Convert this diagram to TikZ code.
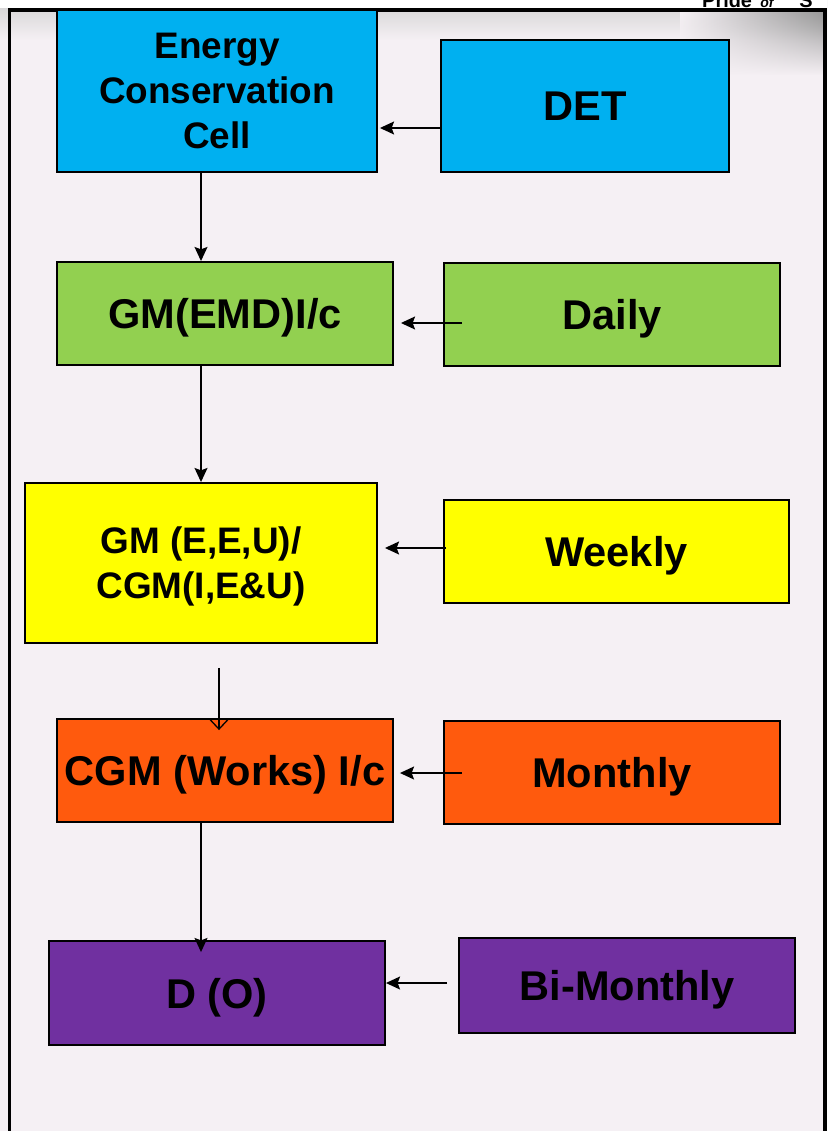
\documentclass[tikz,border=0pt]{standalone}
\usepackage{fontspec}
\setmainfont{Liberation Sans}
\usetikzlibrary{arrows.meta,fadings}
\usepackage{xcolor}
\definecolor{bgpink}{HTML}{F5F0F4}
\definecolor{ecblue}{HTML}{00B0F0}
\definecolor{ecgreen}{HTML}{92D050}
\definecolor{ecyellow}{HTML}{FFFF00}
\definecolor{ecorange}{HTML}{FF5A0D}
\definecolor{ecpurple}{HTML}{7030A0}

\begin{document}
\begin{tikzpicture}[x=0.03cm,y=-0.03cm]
		\tikzset{box/.style = {shape=rectangle,draw,line width=1.6pt,inner sep=0pt,text depth=0pt,
			align=center,font=\bfseries\fontsize{35.5}{40}\selectfont}}
		\tikzset{twoline/.style = {font=\bfseries\fontsize{31.5}{38.5}\selectfont}}
		\tikzset{edge/.style = {line width=1.5pt,-{Stealth[length=12pt,width=11pt,inset=2pt]}}}
		\tikzset{vedge/.style = {line width=1.1pt,-{Straight Barb[length=8pt,width=15pt]}}}
		\useasboundingbox (0,0) rectangle (827,1131);
		\clip (0,0) rectangle (827,1131);
		% page
		\fill[bgpink] (0,0) rectangle (827,1131);
		\shade[top color=black!18, bottom color=bgpink] (0,0) rectangle (827,40);
		\shade[left color=bgpink, right color=black!40, path fading=south] (680,12) rectangle (823,75);
		\fill[white] (0,0) rectangle (827,8);
		\node[anchor=base west,inner sep=0pt,font=\bfseries\fontsize{17}{18}\selectfont] (pride) at (702,8)
			{Pride\hspace{7pt}{\itshape\fontsize{12}{12}\selectfont of}\hspace{22pt}S};
		\draw[line width=3.4pt] (9.5,1140) -- (9.5,10) -- (824.5,10) -- (824.5,1140);
		% vertices
		\node[box,fill=ecblue,twoline,text depth=,minimum width=9.6cm,minimum height=4.86cm] (ecc) at (217,91)
			{Energy\\Conservation\\Cell};
		\node[box,fill=ecblue,minimum width=8.64cm,minimum height=3.96cm] (det) at (585,106) {DET};
		\node[box,fill=ecgreen,minimum width=10.08cm,minimum height=3.09cm] (gm) at (225,313.5) {GM(EMD)I/c};
		\node[box,fill=ecgreen,minimum width=10.08cm,minimum height=3.09cm] (daily) at (612,314.5) {Daily};
		\node[box,fill=ecyellow,twoline,minimum width=10.56cm,minimum height=4.8cm] (gmeu) at (201,563)
			{GM (E,E,U)/\\CGM(I,E\&U)};
		\node[box,fill=ecyellow,minimum width=10.35cm,minimum height=3.09cm] (weekly) at (616.5,551.5) {Weekly};
		\node[box,fill=ecorange,minimum width=10.08cm,minimum height=3.09cm] (cgm) at (225,770.5) {CGM (Works) I/c};
		\node[box,fill=ecorange,minimum width=10.08cm,minimum height=3.09cm] (monthly) at (612,772.5) {Monthly};
		\node[box,fill=ecpurple,minimum width=10.08cm,minimum height=3.12cm] (dir) at (217,993) {D (O)};
		\node[box,fill=ecpurple,minimum width=10.08cm,minimum height=2.85cm] (bimonthly) at (627,985.5) {Bi-Monthly};

		%edges
		\draw[edge] ([shift={(-16,0)}]ecc.south) to ([shift={(-24,0)}]gm.north);
		\draw[edge] ([shift={(0,22)}]det.west) to ([shift={(2,37)}]ecc.east);
		\draw[edge] ([shift={(-24,0)}]gm.south) to (gmeu.north);
		\draw[edge] ([shift={(19,8.5)}]daily.west) to ([shift={(7,9.5)}]gm.east);
		\draw[edge] ([shift={(3,-3.5)}]weekly.west) to ([shift={(7,-15)}]gmeu.east);
		\draw[vedge] ([shift={(18,24)}]gmeu.south) to ([shift={(-6,12)}]cgm.north);
		\draw[edge] ([shift={(19,0.5)}]monthly.west) to ([shift={(6,2.5)}]cgm.east);
		\draw[edge] ([shift={(-24,0)}]cgm.south) to ([shift={(-16,12)}]dir.north);
		\draw[edge] ([shift={(-11,-2.5)}]bimonthly.west) to ([shift={(0,-10)}]dir.east);
\end{tikzpicture}
\end{document}
